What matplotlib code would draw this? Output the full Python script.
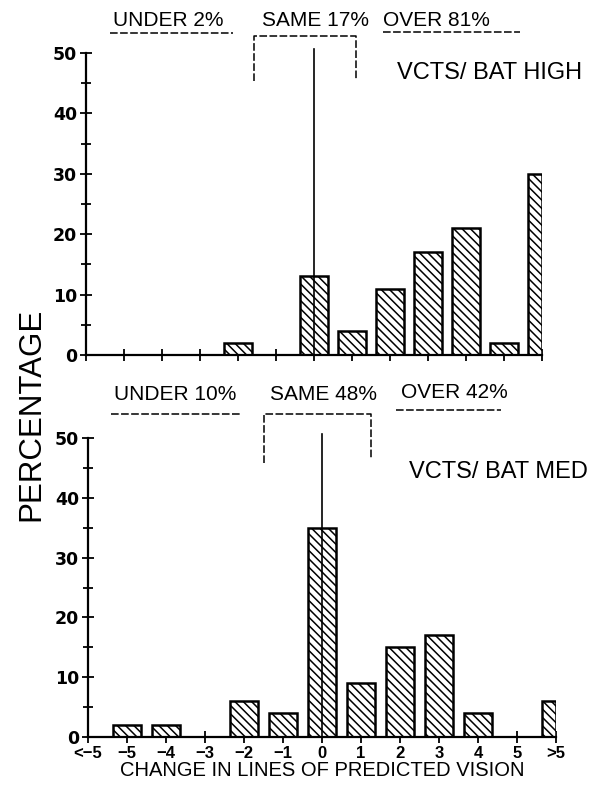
import numpy as np
import matplotlib
matplotlib.use("Agg")
import matplotlib.pyplot as plt

categories = ["<\u22125", "\u22125", "\u22124", "\u22123", "\u22122", "\u22121", "0", "1", "2", "3", "4", "5", ">5"]
high_values = [0, 0, 0, 0, 2, 0, 13, 4, 11, 17, 21, 2, 30]
med_values = [0, 2, 2, 0, 6, 4, 35, 9, 15, 17, 4, 0, 6]
yticks = [0, 10, 20, 30, 40, 50]
high_summary = ["UNDER 2%", "SAME 17%", "OVER 81%"]
med_summary = ["UNDER 10%", "SAME 48%", "OVER 42%"]
panel_titles = ["VCTS/ BAT HIGH", "VCTS/ BAT MED"]
ylabel = "PERCENTAGE"
xlabel = "CHANGE IN LINES OF PREDICTED VISION"

plt.rcParams['font.family'] = ['Liberation Sans', 'DejaVu Sans']
plt.rcParams['hatch.linewidth'] = 1.1

W, H = 592, 787
fig = plt.figure(figsize=(W / 100, H / 100), dpi=100)

def px(x, y):
    return x / W, 1 - y / H

pos = np.arange(len(categories)) - 6
half = 0.36

def draw_panel(ax, values, show_labels):
    vals = np.array(values, dtype=float)
    lefts = pos - half
    widths = np.full(len(pos), 2 * half)
    widths[-1] = half
    mask = vals > 0
    ax.bar(lefts[mask], vals[mask], width=widths[mask], align='edge',
           facecolor='white', edgecolor='black', linewidth=1.8, hatch='\\\\\\\\', zorder=2)
    ax.set_xlim(-6, 6)
    ax.set_ylim(0, 50)
    for s in ['top', 'right']:
        ax.spines[s].set_visible(False)
    ax.spines['left'].set_linewidth(1.6)
    ax.spines['bottom'].set_linewidth(1.6)
    ax.set_yticks(yticks)
    ax.set_yticks(np.arange(5, 50, 10), minor=True)
    ax.set_xticks(pos)
    ax.tick_params(axis='y', which='major', direction='inout', length=9, width=1.3, pad=2)
    ax.tick_params(axis='y', which='minor', direction='inout', length=7, width=1.3)
    ax.tick_params(axis='x', which='major', direction='inout', length=9, width=1.3, pad=2)
    ax.set_yticklabels([str(v) for v in yticks], fontweight='bold', fontsize=12.5,
                       family=['DejaVu Sans'])
    if show_labels:
        ax.set_xticklabels(categories, fontweight='bold', fontsize=12)
    else:
        ax.set_xticklabels([])
    # vertical reference line at 0
    ax.plot([0, 0], [0, 50.7], color='black', lw=1.2, clip_on=False, zorder=3)

dash = (0, (5, 1.6))

# ---------- top panel ----------
ax1 = fig.add_axes([86 / W, 1 - 355 / H, 456 / W, 302 / H])
draw_panel(ax1, high_values, False)
ax1.plot([-5.37, -2.13], [53.3, 53.3], color='black', lw=1.1, ls=dash, clip_on=False)
ax1.plot([-1.58, -1.58, 1.10, 1.10], [45.3, 52.8, 52.8, 45.5], color='black', lw=1.1,
         ls=dash, clip_on=False)
ax1.plot([1.82, 5.42], [53.4, 53.4], color='black', lw=1.1, ls=dash, clip_on=False)

for t, (x, y) in zip(high_summary, [(168, 20), (315, 20), (436, 20)]):
    fig.text(*px(x, y), t, ha='center', va='center', fontsize=15)
fig.text(*px(490, 73), panel_titles[0], ha='center', va='center', fontsize=17)

# ---------- bottom panel ----------
ax2 = fig.add_axes([88 / W, 1 - 737 / H, 468 / W, 299 / H])
draw_panel(ax2, med_values, True)
ax2.plot([-5.41, -2.05], [54.0, 54.0], color='black', lw=1.1, ls=dash, clip_on=False)
ax2.plot([-1.49, -1.49, 1.26, 1.26], [45.8, 54.0, 54.0, 46.5], color='black', lw=1.1,
         ls=dash, clip_on=False)
ax2.plot([1.9, 4.6], [54.7, 54.7], color='black', lw=1.1, ls=dash, clip_on=False)

for t, (x, y) in zip(med_summary, [(175, 395), (323, 395), (454, 393)]):
    fig.text(*px(x, y), t, ha='center', va='center', fontsize=15)
fig.text(*px(498, 472), panel_titles[1], ha='center', va='center', fontsize=17)

fig.text(*px(31, 414), ylabel, ha='center', va='center', rotation=90, fontsize=22.5)
fig.text(*px(322, 770), xlabel, ha='center', va='center', fontsize=14.5)

fig.savefig("out.png", dpi=100)
